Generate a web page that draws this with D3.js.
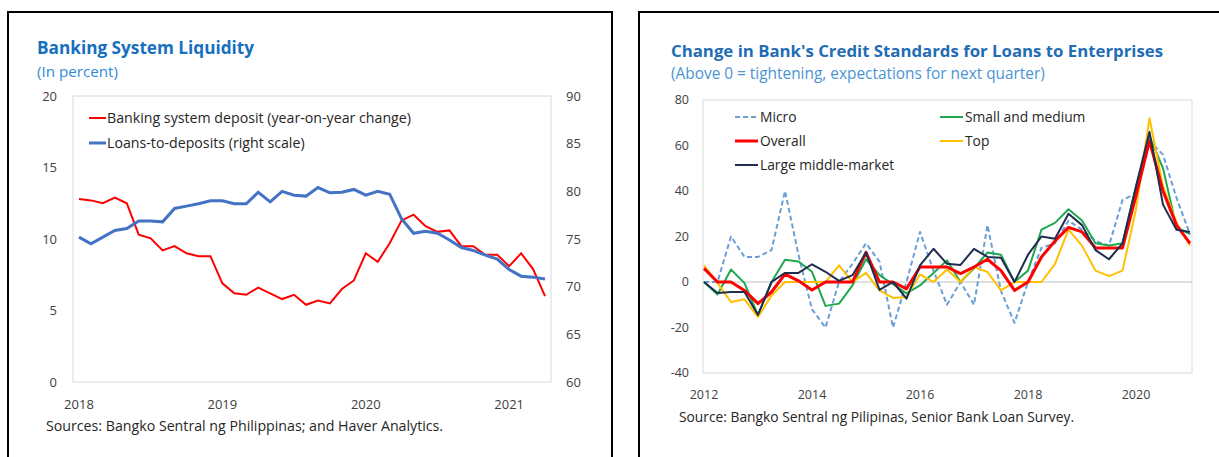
<!DOCTYPE html>
<html lang="en">
<head>
<meta charset="utf-8">
<title>Banking System Liquidity and Credit Standards</title>
<style>
    body, html { margin: 0; background: #fff; overflow: hidden; }
    svg { display: block; font-family: "Open Sans", "Noto Sans", sans-serif; }
</style>
<script src="https://d3js.org/d3.v7.min.js"></script>
</head>
<body>
<svg width="1219" height="457"></svg>
<script>
    // ---- left chart data (monthly, Jan 2018 - Apr 2021)
    const months = d3.timeMonth.range(new Date(2018, 0, 1), new Date(2021, 4, 1)).map(d3.timeFormat("%Y-%m"));
    const depositGrowth = [12.8, 12.7, 12.5, 12.9, 12.5, 10.3, 10.05, 9.2, 9.5, 9.0, 8.8, 8.8,
        6.9, 6.2, 6.1, 6.6, 6.2, 5.8, 6.1, 5.4, 5.7, 5.5, 6.5, 7.1,
        9.0, 8.4, 9.7, 11.3, 11.7, 10.9, 10.5, 10.6, 9.5, 9.5, 8.9, 8.9,
        8.1, 9.0, 7.9, 6.0];
    const loansToDeposits = [75.2, 74.5, 75.2, 75.9, 76.1, 76.9, 76.9, 76.8, 78.2, 78.45, 78.7, 79.0,
        79.0, 78.7, 78.7, 79.9, 78.9, 80.0, 79.6, 79.5, 80.4, 79.85, 79.9, 80.2,
        79.6, 80.0, 79.7, 77.1, 75.6, 75.8, 75.6, 74.9, 74.1, 73.8, 73.3, 72.9,
        71.8, 71.1, 71.0, 70.8];
    const leftYearTicks = ["2018-01", "2019-01", "2020-01", "2021-01"];
    const leftTicks = [0, 5, 10, 15, 20];
    const rightTicks = [60, 65, 70, 75, 80, 85, 90];

    // ---- right chart data (quarterly, 2012Q1 - 2021Q1)
    const quarters = d3.range(2012, 2022).flatMap(y => [1, 2, 3, 4].map(q => y + "Q" + q)).slice(0, 37);
    const micro = [0, 0, 20, 11, 11, 14, 40, 12, -12, -20, 0, 8, 17, 9, -20, 0, 22, 5, -10, 0,
        -10, 25, -4, -18, 0, 15, 17, 27, 23, 18, 16, 36, 39, 62, 56, 37, 21];
    const smallMedium = [0, -5.5, 5.5, -0.5, -14.6, 0, 9.8, 9, 4.5, -10.5, -9.5, -1.5, 10, 3, -1, -5, -1.5, 4, 9.5, 0,
        6, 13, 12, 0, 5, 23, 26, 32, 27, 17, 16, 17, 42, 64, 50, 24, 21];
    const overall = [6, 0, 0, -3.7, -9.5, -4.4, 3.5, 0.5, -3.5, 0, 0, 0, 13, 0, 0, -3, 6.6, 6.6, 6.6, 3.7,
        6.6, 10, 5, -3.7, 0, 11, 18, 24, 22, 15, 15, 15, 38, 62, 40, 25, 17];
    const topTier = [7.3, -0.5, -8.8, -7.6, -15.4, -6, 0, 0, 0, 0, 7.3, 0, 4, -3.7, -7, -6.6, 3.4, 0, 5.5, 0,
        6.6, 4.4, -3.7, 0, 0, 0, 8, 23, 16, 5, 2.6, 5, 32, 72, 42, 26, 16];
    const largeMiddle = [0, -4.8, -4.4, -4.4, -14.5, 0, 4, 4, 7.8, 4.5, 0.5, 3, 13, -3.5, 0, -7.3, 7.3, 14.6, 8, 7.5,
        14.6, 11, 10.7, 0, 12, 20, 19, 30, 25, 14, 10, 17, 42, 66, 34, 23, 22];
    const rightYearTicks = ["2012Q1", "2014Q1", "2016Q1", "2018Q1", "2020Q1"];
    const creditTicks = [-40, -20, 0, 20, 40, 60, 80];

    const svg = d3.select("svg");
    const textColor = "#404040";

    // panel frames
    svg.append("rect").attr("x", 8).attr("y", 12).attr("width", 604).attr("height", 460)
        .attr("fill", "none").attr("stroke", "#000").attr("stroke-width", 2);
    svg.append("rect").attr("x", 639).attr("y", 12).attr("width", 600).attr("height", 460)
        .attr("fill", "none").attr("stroke", "#000").attr("stroke-width", 2);

    // ================= left chart =================
    const L = { left: 73, right: 551, top: 96, bottom: 382 };
    const xL = d3.scalePoint().domain(months).range([L.left, L.right]).padding(0.5);
    const yL = d3.scaleLinear().domain([0, 20]).range([L.bottom, L.top]);
    const yR = d3.scaleLinear().domain([60, 90]).range([L.bottom, L.top]);

    svg.append("text").attr("x", 37).attr("y", 54)
        .attr("fill", "#1670c0").attr("font-weight", "bold").attr("font-size", 17.2)
        .text("Banking System Liquidity");
    svg.append("text").attr("x", 37).attr("y", 77)
        .attr("fill", "#2f8ad8").attr("font-size", 15.2)
        .text("(In percent)");

    svg.append("rect").attr("x", L.left).attr("y", L.top)
        .attr("width", L.right - L.left).attr("height", L.bottom - L.top)
        .attr("fill", "none").attr("stroke", "#d9d9d9");

    svg.append("g").selectAll("text").data(leftTicks).join("text")
        .attr("x", 57).attr("y", d => yL(d)).attr("dy", "0.35em")
        .attr("text-anchor", "end").attr("font-size", 13).attr("fill", textColor)
        .text(d => d);
    svg.append("g").selectAll("text").data(rightTicks).join("text")
        .attr("x", 566).attr("y", d => yR(d)).attr("dy", "0.35em")
        .attr("font-size", 13).attr("fill", textColor)
        .text(d => d);
    svg.append("g").selectAll("text").data(leftYearTicks).join("text")
        .attr("x", d => xL(d)).attr("y", 409)
        .attr("text-anchor", "middle").attr("font-size", 13).attr("fill", textColor)
        .text(d => d.slice(0, 4));

    const lineDep = d3.line().x((d, i) => xL(months[i])).y(d => yL(d));
    const lineLtd = d3.line().x((d, i) => xL(months[i])).y(d => yR(d));
    svg.append("path").datum(depositGrowth).attr("d", lineDep)
        .attr("fill", "none").attr("stroke", "#ff0000").attr("stroke-width", 2);
    svg.append("path").datum(loansToDeposits).attr("d", lineLtd)
        .attr("fill", "none").attr("stroke", "#4472c4").attr("stroke-width", 3);

    const legL = [
        { label: "Banking system deposit (year-on-year change)", color: "#ff0000", w: 2 },
        { label: "Loans-to-deposits (right scale)", color: "#4472c4", w: 3 }
    ];
    const gL = svg.append("g").selectAll("g").data(legL).join("g")
        .attr("transform", (d, i) => `translate(89,${118 + i * 25})`);
    gL.append("line").attr("x1", 0).attr("x2", 17)
        .attr("stroke", d => d.color).attr("stroke-width", d => d.w);
    gL.append("text").attr("x", 18).attr("dy", "0.35em")
        .attr("font-size", 14.2).attr("fill", "#262626").text(d => d.label);

    svg.append("text").attr("x", 46).attr("y", 431)
        .attr("font-size", 14.2).attr("fill", "#262626")
        .text("Sources: Bangko Sentral ng Philippinas; and Haver Analytics.");

    // ================= right chart =================
    const R = { left: 703, right: 1192, top: 100, bottom: 373 };
    const xQ = d3.scalePoint().domain(quarters).range([R.left + 1, R.right - 2]);
    const yQ = d3.scaleLinear().domain([-40, 80]).range([R.bottom, R.top]);

    svg.append("text").attr("x", 671).attr("y", 57)
        .attr("fill", "#1f6db4").attr("font-weight", "bold").attr("font-size", 16.8)
        .text("Change in Bank's Credit Standards for Loans to Enterprises");
    svg.append("text").attr("x", 671).attr("y", 79)
        .attr("fill", "#4b93d3").attr("font-size", 15.4)
        .text("(Above 0 = tightening, expectations for next quarter)");

    svg.append("rect").attr("x", R.left).attr("y", R.top)
        .attr("width", R.right - R.left).attr("height", R.bottom - R.top)
        .attr("fill", "none").attr("stroke", "#d9d9d9");
    svg.append("line").attr("x1", R.left).attr("x2", R.right)
        .attr("y1", yQ(0)).attr("y2", yQ(0))
        .attr("stroke", "#bfbfbf").attr("stroke-width", 1.2);

    svg.append("g").selectAll("text").data(creditTicks).join("text")
        .attr("x", 689).attr("y", d => yQ(d)).attr("dy", "0.35em")
        .attr("text-anchor", "end").attr("font-size", 12.5).attr("fill", textColor)
        .text(d => d);
    svg.append("g").selectAll("text").data(rightYearTicks).join("text")
        .attr("x", d => xQ(d)).attr("y", 399)
        .attr("text-anchor", "middle").attr("font-size", 12.5).attr("fill", textColor)
        .text(d => d.slice(0, 4));

    const series = [
        { label: "Micro", values: micro, color: "#6a9fd6", w: 2, dash: "5,3" },
        { label: "Small and medium", values: smallMedium, color: "#1fa84f", w: 2, dash: null },
        { label: "Top", values: topTier, color: "#ffc000", w: 2, dash: null },
        { label: "Overall", values: overall, color: "#ff0000", w: 3, dash: null },
        { label: "Large middle-market", values: largeMiddle, color: "#1f2d4e", w: 2, dash: null }
    ];
    const lineQ = d3.line().x((d, i) => xQ(quarters[i])).y(d => yQ(d));
    svg.append("g").selectAll("path").data(series).join("path")
        .attr("d", d => lineQ(d.values))
        .attr("fill", "none").attr("stroke", d => d.color)
        .attr("stroke-width", d => d.w).attr("stroke-dasharray", d => d.dash)
        .attr("stroke-linejoin", "round");

    const legOrder = ["Micro", "Small and medium", "Overall", "Top", "Large middle-market"];
    const legR = legOrder.map(n => series.find(s => s.label === n));
    const gR = svg.append("g").selectAll("g").data(legR).join("g")
        .attr("transform", (d, i) => `translate(${i % 2 === 0 ? 735 : 940},${117 + Math.floor(i / 2) * 24})`);
    gR.append("line").attr("x1", 0).attr("x2", 23)
        .attr("stroke", d => d.color).attr("stroke-width", d => d.w)
        .attr("stroke-dasharray", d => d.dash);
    gR.append("text").attr("x", 25).attr("dy", "0.35em")
        .attr("font-size", 13.8).attr("fill", "#262626").text(d => d.label);

    svg.append("text").attr("x", 679).attr("y", 422)
        .attr("font-size", 13.8).attr("fill", "#262626")
        .text("Source: Bangko Sentral ng Pilipinas, Senior Bank Loan Survey.");
</script>
</body>
</html>
